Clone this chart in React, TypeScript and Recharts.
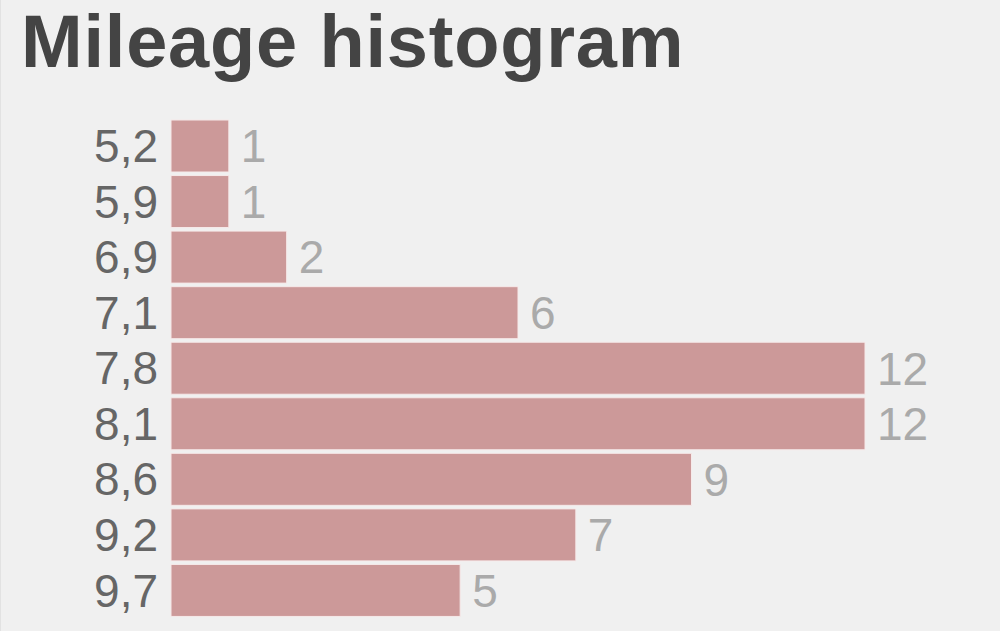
import React from 'react';
import { BarChart, Bar, XAxis, YAxis, LabelList } from 'recharts';

const categories = ['5,2', '5,9', '6,9', '7,1', '7,8', '8,1', '8,6', '9,2', '9,7'];
const counts = [1, 1, 2, 6, 12, 12, 9, 7, 5];
const xDomain = [0, 12];

const data = categories.map((c, i) => ({ name: c, value: counts[i] }));

const FONT = '"Liberation Sans", Arial, Helvetica, sans-serif';

export default function App() {
  return (
    <div
      style={{
        position: 'fixed',
        left: 0,
        top: 0,
        width: 1000,
        height: 631,
        background: '#f0f0f0',
        borderLeft: '1px solid #e2e2e2',
        boxSizing: 'border-box',
        fontFamily: FONT,
      }}
    >
      <div style={{ position: 'absolute', left: -1, top: 0 }}>
        <BarChart
          width={1000}
          height={631}
          data={data}
          layout="vertical"
          margin={{ top: 118, right: 135, bottom: 13, left: 0 }}
          barCategoryGap={2}
        >
          <XAxis type="number" domain={xDomain} hide />
          <YAxis
            type="category"
            dataKey="name"
            width={171}
            axisLine={false}
            tickLine={false}
            tickSize={0}
            tickMargin={13}
            tick={{ fill: '#666666', fontSize: 46, fontFamily: FONT }}
            interval={0}
          />
          <Bar
            dataKey="value"
            fill="#cc9999"
            stroke="#f6e9e9"
            strokeWidth={1}
            isAnimationActive={false}
          >
            <LabelList
              dataKey="value"
              position="right"
              offset={12}
              fill="#aaaaaa"
              fontSize={46}
              fontFamily={FONT}
            />
          </Bar>
        </BarChart>
      </div>
      <svg width={1000} height={120} style={{ position: 'absolute', left: -1, top: 0 }}>
        <text
          x={21}
          y={67}
          fontFamily={FONT}
          fontWeight="bold"
          fontSize={74}
          letterSpacing={0.8}
          fill="#444444"
        >
          Mileage histogram
        </text>
      </svg>
    </div>
  );
}
